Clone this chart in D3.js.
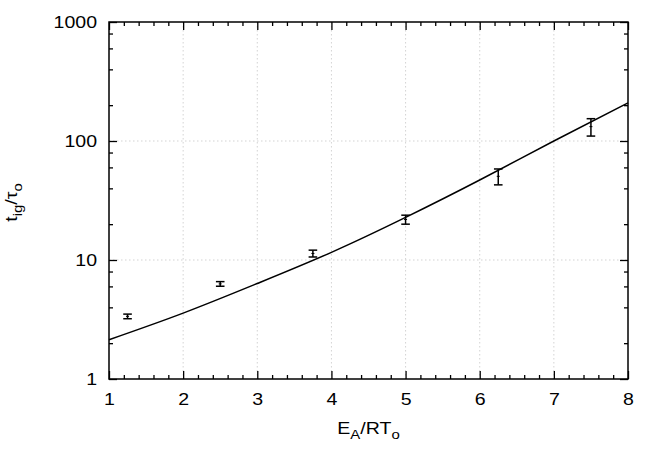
<!DOCTYPE html>
<html>
<head>
  <meta charset="utf-8">
  <script src="https://d3js.org/d3.v7.min.js"></script>
  <style>
    body { margin: 0; background: #fff; font-family: "Liberation Sans", Arial, sans-serif; }
    .tick text { font-family: "Liberation Sans", Arial, sans-serif; font-size: 17px; fill: #000; }
    .grid line { stroke: #c8c8c8; stroke-width: 0.8; stroke-dasharray: 1.5,2.5; }
    .title { font-size: 17px; fill: #000; }
  </style>
</head>
<body>
<svg width="664" height="463"></svg>
<script>
  // measured points (E_A/RT_o, t_ig/tau_o, error)
  const pointX = [1.25, 2.5, 3.75, 5, 6.25, 7.5]
  const pointY = [3.36, 6.3, 11.35, 21.9, 50.5, 132]
  const pointErr = [0.15, 0.28, 0.75, 1.9, 7.7, 22]

  // model curve
  const curveX = [1, 2, 3, 4, 5, 6, 7, 8]
  const curveY = [2.14, 3.58, 6.35, 11.6, 22.8, 47, 100, 209]

  const xTicks = [1, 2, 3, 4, 5, 6, 7, 8]
  const yTicks = [1, 10, 100, 1000]

  const pLeft = 109, pRight = 628, pTop = 22, pBottom = 379
  const stretch = 1.15   // the original font is wider than Helvetica

  const svg = d3.select("svg")

  const x = d3.scaleLinear().domain([1, 8]).range([pLeft, pRight])
  const y = d3.scaleLog().domain([1, 1000]).range([pBottom, pTop])

  const xMinor = d3.range(1, 8.001, 0.2).filter(v => Math.abs(v - Math.round(v)) > 0.01)
  const yMinor = []
  yTicks.slice(0, -1).forEach(d => [2, 4, 6, 8].forEach(m => yMinor.push(d * m)))

  // grid
  svg.append("g").attr("class", "grid")
    .selectAll("line").data(xTicks.slice(1, -1)).join("line")
    .attr("x1", d => x(d)).attr("x2", d => x(d))
    .attr("y1", pTop).attr("y2", pBottom)
  svg.append("g").attr("class", "grid")
    .selectAll("line").data(yTicks.slice(1, -1)).join("line")
    .attr("x1", pLeft).attr("x2", pRight)
    .attr("y1", d => y(d)).attr("y2", d => y(d))

  function styleAxis(g) {
    g.select(".domain").remove()
    g.selectAll(".tick line").attr("stroke", "#000").attr("stroke-width", 1.3)
  }

  function stretchText(g) {
    g.selectAll(".tick text").each(function () {
      const t = d3.select(this)
      const tx = +t.attr("x") || 0
      t.attr("x", tx / stretch).attr("transform", `scale(${stretch},1)`)
    })
  }

  // major axes with labels
  svg.append("g").attr("transform", `translate(0,${pBottom})`)
    .call(d3.axisBottom(x).tickValues(xTicks).tickFormat(d3.format("d")).tickSize(-8).tickPadding(14))
    .call(styleAxis).call(stretchText)
  svg.append("g").attr("transform", `translate(${pLeft},0)`)
    .call(d3.axisLeft(y).tickValues(yTicks).tickFormat(d3.format("d")).tickSize(-8).tickPadding(12))
    .call(styleAxis).call(stretchText)
  // mirrored major ticks
  svg.append("g").attr("transform", `translate(0,${pTop})`)
    .call(d3.axisTop(x).tickValues(xTicks).tickFormat("").tickSize(-8))
    .call(styleAxis)
  svg.append("g").attr("transform", `translate(${pRight},0)`)
    .call(d3.axisRight(y).tickValues(yTicks).tickFormat("").tickSize(-8))
    .call(styleAxis)
  // minor ticks
  svg.append("g").attr("transform", `translate(0,${pBottom})`)
    .call(d3.axisBottom(x).tickValues(xMinor).tickFormat("").tickSize(-4)).call(styleAxis)
  svg.append("g").attr("transform", `translate(0,${pTop})`)
    .call(d3.axisTop(x).tickValues(xMinor).tickFormat("").tickSize(-4)).call(styleAxis)
  svg.append("g").attr("transform", `translate(${pLeft},0)`)
    .call(d3.axisLeft(y).tickValues(yMinor).tickFormat("").tickSize(-4)).call(styleAxis)
  svg.append("g").attr("transform", `translate(${pRight},0)`)
    .call(d3.axisRight(y).tickValues(yMinor).tickFormat("").tickSize(-4)).call(styleAxis)

  // frame
  svg.append("rect")
    .attr("x", pLeft).attr("y", pTop)
    .attr("width", pRight - pLeft).attr("height", pBottom - pTop)
    .attr("fill", "none").attr("stroke", "#000").attr("stroke-width", 1.5)

  // model curve
  const line = d3.line()
    .x((d, i) => x(curveX[i]))
    .y(d => y(d))
    .curve(d3.curveNatural)
  svg.append("path")
    .datum(curveY)
    .attr("d", line)
    .attr("fill", "none").attr("stroke", "#000").attr("stroke-width", 1.5)

  // error bars
  const pts = pointX.map((v, i) => ({ x: v, y: pointY[i], e: pointErr[i] }))
  const eb = svg.append("g").attr("stroke", "#000").attr("stroke-width", 1.5)
  const g = eb.selectAll("g").data(pts).join("g")
  g.append("line")
    .attr("x1", d => x(d.x)).attr("x2", d => x(d.x))
    .attr("y1", d => y(d.y - d.e)).attr("y2", d => y(d.y + d.e))
  g.append("line")
    .attr("x1", d => x(d.x) - 4.3).attr("x2", d => x(d.x) + 4.3)
    .attr("y1", d => y(d.y - d.e)).attr("y2", d => y(d.y - d.e))
  g.append("line")
    .attr("x1", d => x(d.x) - 4.3).attr("x2", d => x(d.x) + 4.3)
    .attr("y1", d => y(d.y + d.e)).attr("y2", d => y(d.y + d.e))
  g.append("line")
    .attr("stroke-width", 1)
    .attr("x1", d => x(d.x) - 1.5).attr("x2", d => x(d.x) + 1.5)
    .attr("y1", d => y(d.y)).attr("y2", d => y(d.y))

  // axis titles
  const xt = svg.append("text").attr("class", "title")
    .attr("transform", `translate(${(pLeft + pRight) / 2},434) scale(${stretch},1)`)
    .attr("text-anchor", "middle")
  xt.append("tspan").text("E")
  xt.append("tspan").attr("font-size", 13).attr("dy", 5).text("A")
  xt.append("tspan").attr("dy", -5).text("/RT")
  xt.append("tspan").attr("font-size", 13).attr("dy", 5).text("o")

  const yt = svg.append("text").attr("class", "title")
    .attr("transform", `translate(16.5,${(pTop + pBottom) / 2 + 2}) rotate(-90) scale(${stretch},1)`)
    .attr("text-anchor", "middle")
  yt.append("tspan").text("t")
  yt.append("tspan").attr("font-size", 13).attr("dy", 5).text("ig")
  yt.append("tspan").attr("dy", -5).text("/τ")
  yt.append("tspan").attr("font-size", 13).attr("dy", 5).text("o")
</script>
</body>
</html>
